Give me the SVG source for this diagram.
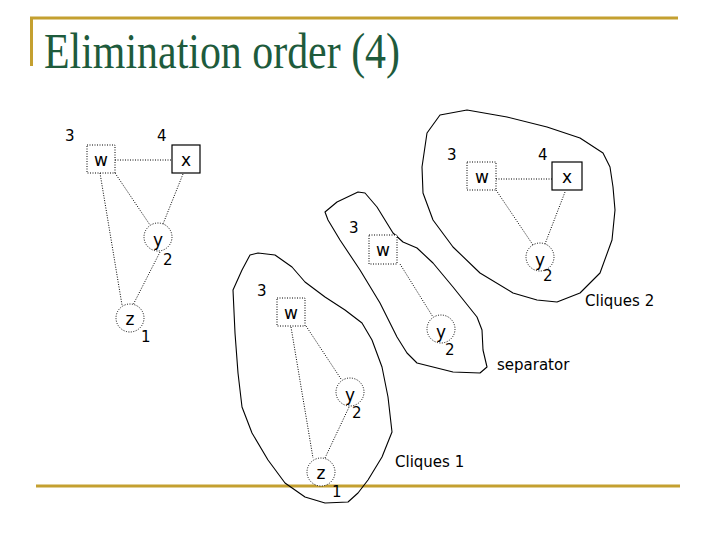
<svg xmlns="http://www.w3.org/2000/svg" width="720" height="540" viewBox="0 0 720 540">
<style>
.gold{stroke:#C4A030;stroke-width:3;fill:none}
.title{font-family:"Liberation Serif",serif;font-size:50px;fill:#1E5B3C}
.t{font-family:"DejaVu Sans",Verdana,sans-serif;font-size:15px;fill:#000}
.lbl{font-family:"DejaVu Sans",Verdana,sans-serif;font-size:17px;fill:#000;text-anchor:middle}
.dbox{fill:#fff;stroke:#000;stroke-width:1;stroke-dasharray:1,1.5}
.sbox{fill:#fff;stroke:#000;stroke-width:1.2}
.dcirc{fill:#fff;stroke:#000;stroke-width:1;stroke-dasharray:1,1.5}
.edge{stroke:#000;stroke-width:1;stroke-dasharray:1,1.5;fill:none}
.blob{fill:none;stroke:#000;stroke-width:1.1;stroke-linejoin:round}
</style>
<rect width="720" height="540" fill="#fff"/>
<g id="frame">
<line class="gold" x1="30" y1="18" x2="678" y2="18"/>
<line class="gold" x1="31.5" y1="17" x2="31.5" y2="66"/>
<line class="gold" x1="36" y1="486" x2="680" y2="486"/>
<text class="title" x="44" y="68" textLength="356" lengthAdjust="spacingAndGlyphs">Elimination order (4)</text>
</g>
<g id="blobs">
<polygon class="blob" points="250,255 258,253 275,255 292,267 305,282 325,297 345,310 362,323 372,340 382,367 388,397 392,432 382,457 368,480 358,493 348,502 325,503 305,497 285,483 268,460 252,433 242,407 238,373 235,333 233,290 242,270"/>
<polygon class="blob" points="325,212 337,202 358,192 365,193 377,207 393,233 403,242 417,248 433,263 453,287 477,317 482,330 483,350 487,367 480,373 453,372 417,363 407,353 397,337 380,303 360,270 340,240 328,220"/>
<polygon class="blob" points="440,115 467,110 507,117 547,127 580,138 603,153 610,167 613,187 615,210 612,240 600,273 580,293 557,302 537,300 513,293 480,273 453,247 433,220 423,193 422,167 427,133"/>
</g>
<g id="connectors">
<line class="edge" x1="115" y1="160" x2="172" y2="160"/>
<line class="edge" x1="115" y1="173" x2="150" y2="225"/>
<line class="edge" x1="183" y1="174" x2="163" y2="224"/>
<line class="edge" x1="100" y1="173" x2="122" y2="305"/>
<line class="edge" x1="160" y1="252" x2="133" y2="305"/>
<line class="edge" x1="291" y1="327" x2="313" y2="458"/>
<line class="edge" x1="306" y1="326" x2="341" y2="379"/>
<line class="edge" x1="350" y1="405" x2="325" y2="458"/>
<line class="edge" x1="400" y1="264" x2="433" y2="317"/>
<line class="edge" x1="496" y1="179" x2="552" y2="179"/>
<line class="edge" x1="496" y1="190" x2="533" y2="245"/>
<line class="edge" x1="565" y1="192" x2="545" y2="244"/>
</g>
<g id="left-w"><rect class="dbox" x="87" y="145" width="28" height="28"/><text class="lbl" x="101" y="166">w</text><text class="t" x="65" y="141">3</text></g>
<g id="left-x"><rect class="sbox" x="172" y="145" width="28" height="28"/><text class="lbl" x="186" y="166">x</text><text class="t" x="157" y="141">4</text></g>
<g id="left-y"><circle class="dcirc" cx="158" cy="237" r="14"/><text class="lbl" x="158" y="246">y</text><text class="t" x="163" y="265">2</text></g>
<g id="left-z"><circle class="dcirc" cx="130" cy="318" r="14"/><text class="lbl" x="130" y="325">z</text><text class="t" x="141" y="342">1</text></g>
<g id="c1-w"><rect class="dbox" x="277" y="298" width="28" height="28"/><text class="lbl" x="291" y="319">w</text><text class="t" x="257" y="296">3</text></g>
<g id="c1-y"><circle class="dcirc" cx="350" cy="392" r="14"/><text class="lbl" x="350" y="401">y</text><text class="t" x="352" y="418">2</text></g>
<g id="c1-z"><circle class="dcirc" cx="321" cy="472" r="14"/><text class="lbl" x="321" y="479">z</text><text class="t" x="332" y="497">1</text></g>
<g id="sep-w"><rect class="dbox" x="369" y="235" width="28" height="29"/><text class="lbl" x="383" y="256">w</text><text class="t" x="349" y="233">3</text></g>
<g id="sep-y"><circle class="dcirc" cx="441" cy="329" r="14"/><text class="lbl" x="441" y="338">y</text><text class="t" x="445" y="355">2</text></g>
<g id="c2-w"><rect class="dbox" x="467" y="162" width="29" height="28"/><text class="lbl" x="482" y="183">w</text><text class="t" x="447" y="160">3</text></g>
<g id="c2-x"><rect class="sbox" x="552" y="162" width="30" height="28"/><text class="lbl" x="567" y="183">x</text><text class="t" x="538" y="160">4</text></g>
<g id="c2-y"><circle class="dcirc" cx="540" cy="257" r="14"/><text class="lbl" x="540" y="266">y</text><text class="t" x="543" y="281">2</text></g>
<g id="labels">
<text class="t" x="585" y="306">Cliques 2</text>
<text class="t" x="497" y="370">separator</text>
<text class="t" x="395" y="467">Cliques 1</text>
</g>
</svg>
